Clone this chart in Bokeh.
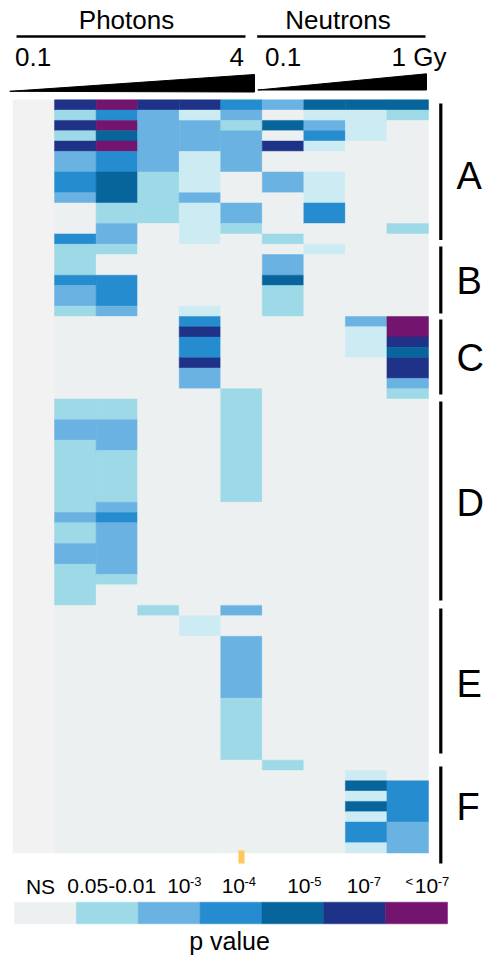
from bokeh.plotting import figure
from bokeh.models import Range1d, ColumnDataSource
from bokeh.core.properties import value
from bokeh.embed import file_html
from bokeh.resources import INLINE

# ---------------- data ----------------
# columns: control, 5 photon doses (0.1 -> 4 Gy), 4 neutron doses (0.1 -> 1 Gy)
column_names = ["control", "P1", "P2", "P3", "P4", "P5", "N1", "N2", "N3", "N4"]
group_titles = ["Photons", "Neutrons"]
photon_dose_labels = ["0.1", "4"]
neutron_dose_labels = ["0.1", "1 Gy"]

# p-value level per cell (columns P1..N4); '0' = NS, 't' = trend (very light),
# '1' = 0.05-0.01, '2' = 1e-3, '3' = 1e-4, '4' = 1e-5, '5' = 1e-7, '6' = <1e-7
section_A = ["565532444", "132t20tt1", "5622142t0", "1422203t0", "562225t00",
             "232t20000", "232t20000", "341t02t00", "341t02t00", "241200t00",
             "011t20300", "011t20300", "020t10001", "320t01000"]
section_B = ["110000t00", "100002000", "100002000", "330004000", "230001000",
             "230001000", "120t01000"]
section_C = ["000300026", "0005000t6", "0003000t5", "0003000t4", "000500005",
             "000200005", "000200002", "000010001"]
section_D = ["110010000", "110010000", "220010000", "220010000", "120010000",
             "110010000", "110010000", "110010000", "110010000", "110010000",
             "120000000", "230000000", "120000000", "120000000", "220000000",
             "220000000", "120000000", "110000000", "100000000", "100000000"]
section_E = ["001020000", "000t00000", "000t00000", "000020000", "000020000",
             "000020000", "000020000", "000020000", "000020000", "000010000",
             "000010000", "000010000", "000010000", "000010000", "000010000"]
section_F = ["000001000", "0000000t0", "000000043", "0000000t3", "000000043",
             "0000000t3", "000000032", "000000032", "0000000t2"]
sections = [("A", section_A), ("B", section_B), ("C", section_C),
            ("D", section_D), ("E", section_E), ("F", section_F)]

level_colors = {"0": "#ECF0F1", "t": "#CDEBF3", "1": "#9DD9E6", "2": "#6AB2E2",
                "3": "#258DCF", "4": "#07659C", "5": "#1E3388", "6": "#73146F"}
control_color = "#F2F2F2"

legend_levels = ["0", "1", "2", "3", "4", "5", "6"]
legend_main = ["NS", "0.05-0.01", "10", "10", "10", "10", "10"]
legend_sup = ["", "", "-3", "-4", "-5", "-7", "-7"]
legend_title = "p value"

# ---------------- layout ----------------
OFF = 0                  # page offset of the canvas
FIG_W, FIG_H = 483, 961
X0, CW = 12.5, 41.55     # page px of heatmap left edge, column width
Y0, RH = 99.3, 10.318    # page px of heatmap top, row height
x_start = -0.5 - (X0 - OFF) / CW
x_end = x_start + FIG_W / CW
y_top = -0.5 - (Y0 - OFF) / RH
y_bot = y_top + FIG_H / RH
BASE_SHIFT = 0.33        # correction for where the svg text baseline lands


def X(px):
    return x_start + (px - OFF) / CW


def Y(py):
    return y_top + (py - OFF) / RH


def YB(py, size):
    """data y for a text whose baseline should sit at page py"""
    return Y(py - BASE_SHIFT * size)


FONT = value("Liberation Sans")

p = figure(width=FIG_W, height=FIG_H, x_range=Range1d(x_start, x_end),
           y_range=Range1d(y_bot, y_top), output_backend="svg",
           toolbar_location=None, min_border=0)
p.xaxis.visible = False
p.yaxis.visible = False
p.grid.visible = False
p.outline_line_color = None
p.background_fill_color = "white"

# ---------------- heatmap ----------------
all_rows = []
sec_rows = []
for name, rows in sections:
    start = len(all_rows)
    all_rows.extend(rows)
    sec_rows.append((name, start, len(all_rows) - 1))
n_rows = len(all_rows)

# colour per (column, row); column 0 is the control column
grid = [[control_color] * n_rows]
for j in range(9):
    grid.append([level_colors[all_rows[r][j]] for r in range(n_rows)])

# merge vertical runs of equal colour to avoid hairline seams
lefts_h, rights_h, tops_h, bottoms_h, cols_h = [], [], [], [], []
for c, colvals in enumerate(grid):
    r = 0
    while r < n_rows:
        e = r
        while e + 1 < n_rows and colvals[e + 1] == colvals[r]:
            e += 1
        lefts_h.append(c - 0.5); rights_h.append(c + 0.5)
        tops_h.append(r - 0.5); bottoms_h.append(e + 0.5)
        cols_h.append(colvals[r])
        r = e + 1

src = ColumnDataSource(dict(left=lefts_h, right=rights_h, top=tops_h,
                            bottom=bottoms_h, c=cols_h))
p.quad(left="left", right="right", top="top", bottom="bottom", fill_color="c",
       line_color="c", line_width=0.5, source=src)

# small marker under the last photon column
p.rect(x=[5], y=[Y(856.5)], width=6 / CW, height=13 / RH,
       fill_color="#FFC65A", line_color=None)

# ---------------- header ----------------
p.text(x=[X(126), X(337.5)], y=[YB(28.5, 26)] * 2, text=group_titles,
       text_font=FONT, text_font_size="26px", text_align="center",
       text_baseline="alphabetic", text_color="black")
p.segment(x0=[X(16), X(256.7)], y0=[Y(36), Y(36)], x1=[X(245), X(425)],
          y1=[Y(36), Y(36)], line_width=2.5, line_color="black")
p.text(x=[X(14.5), X(264.5)], y=[YB(65, 26)] * 2,
       text=[photon_dose_labels[0], neutron_dose_labels[0]], text_font=FONT,
       text_font_size="26px", text_align="left", text_baseline="alphabetic")
p.text(x=[X(243.5), X(446)], y=[YB(65, 26)] * 2,
       text=[photon_dose_labels[1], neutron_dose_labels[1]], text_font=FONT,
       text_font_size="26px", text_align="right", text_baseline="alphabetic")
p.patch([X(9.3), X(254), X(254)], [Y(90.8), Y(74), Y(91.5)], color="black")
p.patch([X(257.3), X(426), X(426)], [Y(89.5), Y(73.3), Y(89.5)], color="black")

# ---------------- section brackets ----------------
bracket_px = {"A": (103, 239.5), "B": (246, 313), "C": (319, 394),
              "D": (401, 600), "E": (608, 753), "F": (766, 863)}
letter_center = {"A": 174, "B": 279.7, "C": 356, "D": 501.5, "E": 682, "F": 805}
names = [s[0] for s in sec_rows]
p.segment(x0=[X(440.3)] * 6, x1=[X(440.3)] * 6,
          y0=[Y(bracket_px[n][0]) for n in names],
          y1=[Y(bracket_px[n][1]) for n in names],
          line_width=3.2, line_color="black")
p.text(x=[X(456)] * 6, y=[YB(letter_center[n] + 13.6, 38) for n in names],
       text=names, text_font=FONT, text_font_size="38px", text_align="left",
       text_baseline="alphabetic")

# ---------------- p-value legend ----------------
seg_w = (447 - 14) / len(legend_levels)
lefts = [X(14 + i * seg_w) for i in range(len(legend_levels))]
rights = [X(14 + (i + 1) * seg_w) for i in range(len(legend_levels))]
p.quad(left=lefts, right=rights, top=[Y(901.7)] * 7, bottom=[Y(923.3)] * 7,
       fill_color=[level_colors[l] for l in legend_levels],
       line_color=[level_colors[l] for l in legend_levels], line_width=0.5)

p.text(x=[X(40), X(111.2)], y=[YB(892.7, 21)] * 2, text=legend_main[:2],
       text_font=FONT, text_font_size="21px", text_align="center",
       text_baseline="alphabetic")
ten_right = [190, 244.5, 310, 369.5, 437.7]
p.text(x=[X(v) for v in ten_right], y=[YB(892.7, 21)] * 5, text=legend_main[2:],
       text_font=FONT, text_font_size="21px", text_align="right",
       text_baseline="alphabetic")
p.text(x=[X(v - 0.5) for v in ten_right], y=[YB(885.5, 13)] * 5,
       text=legend_sup[2:], text_font=FONT, text_font_size="13px",
       text_align="left", text_baseline="alphabetic")
p.text(x=[X(412.5)], y=[YB(885.5, 13)], text=["<"], text_font=FONT,
       text_font_size="13px", text_align="right", text_baseline="alphabetic")
p.text(x=[X(229)], y=[YB(949, 25)], text=[legend_title], text_font=FONT,
       text_font_size="25px", text_align="center", text_baseline="alphabetic")

open("out.html", "w").write(file_html(p, INLINE))
